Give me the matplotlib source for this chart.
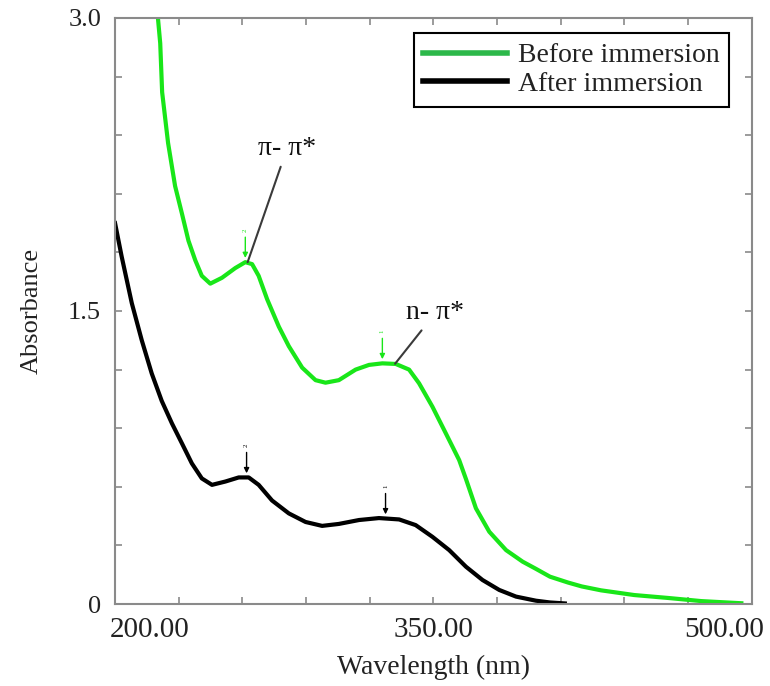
import matplotlib
matplotlib.use("Agg")
from matplotlib import pyplot as plt
from matplotlib.lines import Line2D
import numpy as np

# wavelength (nm) / absorbance
wl_before = [219.5, 220.3, 221.3, 222.2, 225.0, 228.3, 231.5, 234.6, 237.8, 240.9,
             244.9, 250.4, 256.7, 261.4, 264.6, 267.7, 271.7, 277.2, 281.9, 288.2,
             294.5, 299.2, 305.5, 313.4, 319.7, 326.0, 332.3, 338.6, 343.3, 349.6,
             355.9, 362.2, 365.4, 370.1, 376.4, 384.3, 392.1, 398.4, 405.0, 413.5,
             420.0, 429.1, 444.7, 460.7, 476.3, 495.2]
abs_before = [3.10, 2.99, 2.87, 2.62, 2.36, 2.14, 2.00, 1.86, 1.76, 1.68,
              1.64, 1.67, 1.72, 1.75, 1.74, 1.68, 1.56, 1.42, 1.32, 1.21,
              1.146, 1.133, 1.146, 1.20, 1.224, 1.232, 1.229, 1.20, 1.13, 1.01,
              0.874, 0.737, 0.64, 0.49, 0.37, 0.276, 0.217, 0.18, 0.14, 0.11,
              0.09, 0.07, 0.046, 0.031, 0.015, 0.004]

wl_after = [200.0, 203.1, 207.9, 212.6, 217.3, 222.0, 226.8, 231.5, 236.2, 240.9,
            245.7, 252.0, 258.3, 263.0, 267.7, 274.0, 281.9, 289.8, 297.6, 305.5,
            315.0, 324.4, 333.9, 341.7, 349.6, 357.5, 365.4, 373.2, 381.1, 389.0,
            398.4, 405.0, 412.0]
abs_after = [1.95, 1.78, 1.54, 1.35, 1.18, 1.04, 0.925, 0.823, 0.72, 0.643,
             0.61, 0.627, 0.648, 0.648, 0.61, 0.53, 0.464, 0.42, 0.40, 0.41,
             0.43, 0.44, 0.433, 0.404, 0.344, 0.276, 0.191, 0.123, 0.072, 0.038,
             0.017, 0.008, 0.003]

# picked peaks (wavelength, peak number as printed by the instrument)
peaks_before = [(261.4, "2"), (326.0, "1")]
peaks_after = [(262.0, "2"), (327.5, "1")]

x_ticks = [200, 350, 500]
x_tick_labels = ["200.00", "350.00", "500.00"]
y_ticks = [0, 1.5, 3.0]
y_tick_labels = ["0", "1.5", "3.0"]

GREEN = "#19e619"
SERIF = ["Liberation Serif", "DejaVu Serif"]
plt.rcParams["font.family"] = SERIF

fig = plt.figure(figsize=(7.7, 6.86), dpi=100)
ax = fig.add_axes([0.1494, 0.1195, 0.8266, 0.8543])

ax.plot(wl_before, abs_before, color=GREEN, lw=3.0, solid_joinstyle="round")
ax.plot(wl_after, abs_after, color="black", lw=3.0, solid_joinstyle="round")

ax.set_xlim(200, 500)
ax.set_ylim(0, 3.0)

for spine in ax.spines.values():
    spine.set_color("#8a8a8a")
    spine.set_linewidth(1.5)

ax.set_xticks(np.arange(200, 501, 30), minor=True)
ax.set_yticks(np.arange(0, 3.01, 0.3), minor=True)
ax.set_xticks(x_ticks)
ax.set_yticks(y_ticks)
ax.set_yticklabels(y_tick_labels)
ax.set_xticklabels([])
ax.tick_params(which="both", direction="in", top=True, right=True,
               color="#8a8a8a", width=1.2, length=5)
ax.tick_params(axis="y", which="major", labelsize=19, labelcolor="#222222", pad=10)

xax = ax.get_xaxis_transform()
for value, label in zip(x_ticks, x_tick_labels):
    ha = {200: "left", 500: "right"}.get(value, "center")
    shift = {200: -2.5, 500: 6.0}.get(value, 0.0)
    ax.text(value + shift, -0.045, label, transform=xax, ha=ha, va="center",
            fontsize=21, color="#222222")

ax.set_xlabel("Wavelength (nm)", fontsize=20, color="#222222", labelpad=33)
ax.set_ylabel("Absorbance", fontsize=19, color="#222222", labelpad=18)

# peak pick markers
for peaks, wl, ab, col in [(peaks_before, wl_before, abs_before, GREEN),
                           (peaks_after, wl_after, abs_after, "black")]:
    for w, num in peaks:
        a = np.interp(w, wl, ab)
        ax.annotate("", xy=(w, a), xytext=(0, 18), textcoords="offset points",
                    arrowprops=dict(arrowstyle="-|>,head_width=0.15,head_length=0.3",
                                    color=col, lw=1.0, shrinkA=0, shrinkB=3))
        ax.annotate(num, xy=(w, a), xytext=(0, 22), textcoords="offset points",
                    ha="center", va="bottom", rotation=90, fontsize=5, color=col)

# band assignments
ax.annotate("π- π*", xy=(262.5, 1.75), xytext=(281.0, 2.33),
            ha="center", va="center", fontsize=20, color="#111111",
            arrowprops=dict(arrowstyle="-", color="#3a3a3a", lw=1.5,
                            shrinkA=2, shrinkB=0))
ax.annotate("n- π*", xy=(332.0, 1.23), xytext=(351.0, 1.49),
            ha="center", va="center", fontsize=20, color="#111111",
            arrowprops=dict(arrowstyle="-", color="#3a3a3a", lw=1.5,
                            shrinkA=2, shrinkB=0))

handles = [Line2D([], [], color="#2cb84a", lw=4),
           Line2D([], [], color="black", lw=4)]
leg = ax.legend(handles, ["Before immersion", "After immersion"],
                loc="upper right", bbox_to_anchor=(0.965, 0.974),
                fontsize=20, frameon=True, fancybox=False, framealpha=1,
                edgecolor="black", handlelength=3.0, handletextpad=0.4,
                borderpad=0.35, labelspacing=0.12, borderaxespad=0)
leg.get_frame().set_linewidth(1.5)
for t in leg.get_texts():
    t.set_color("#222222")

fig.savefig("out.png", dpi=100)
